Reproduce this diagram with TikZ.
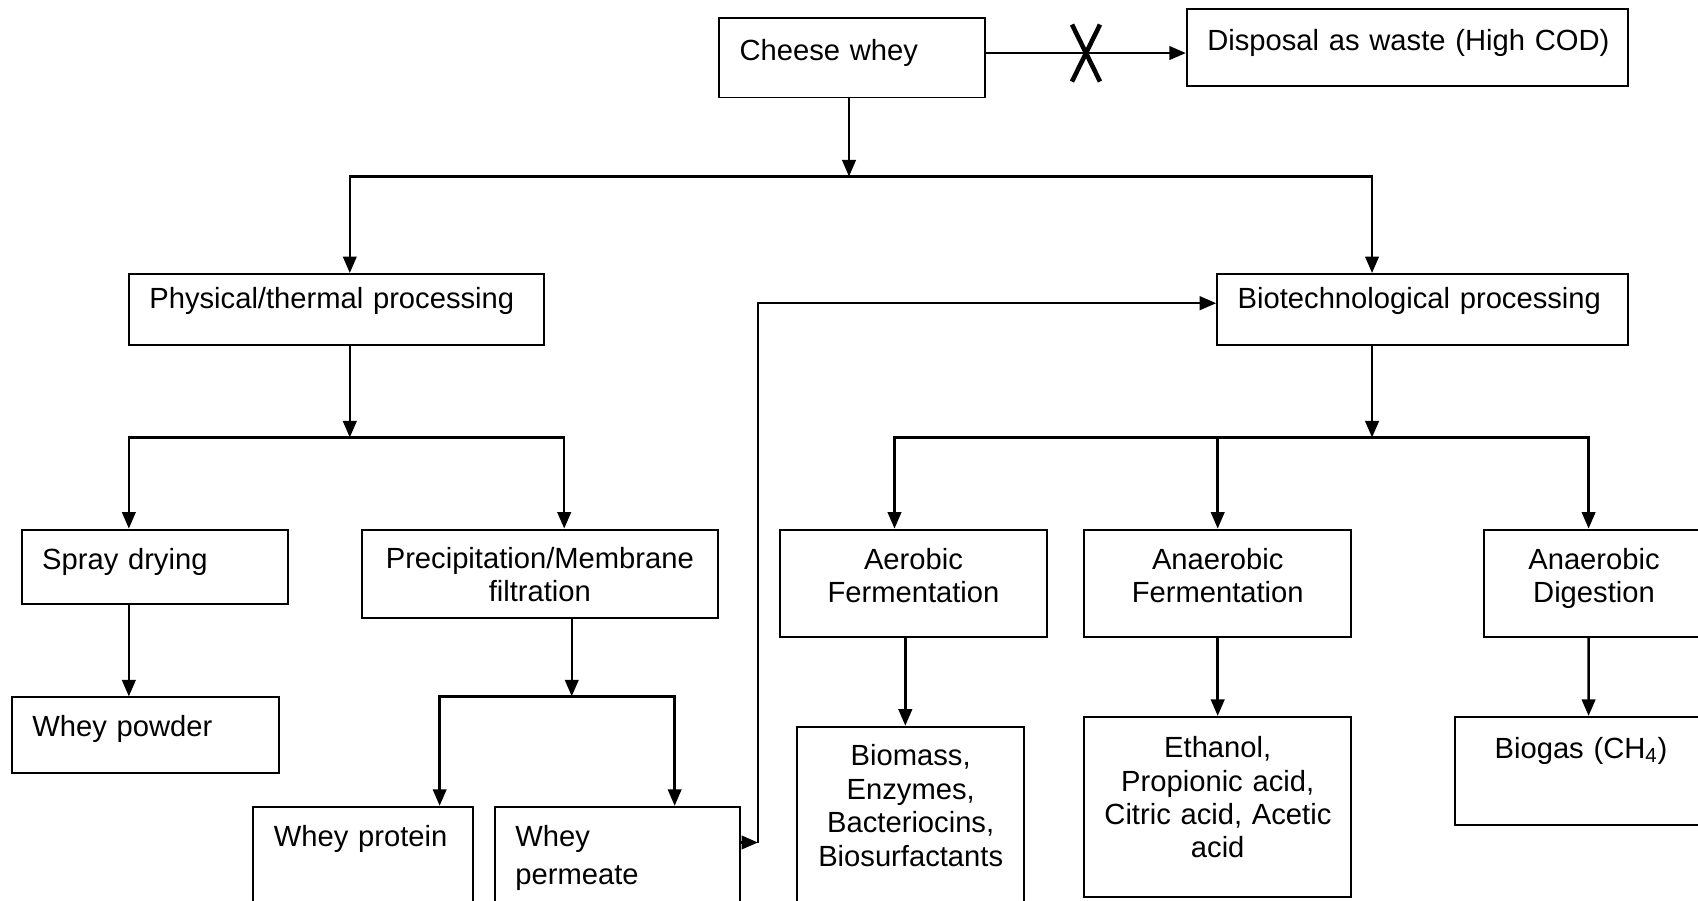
\documentclass[tikz,border=0pt]{standalone}
\usepackage{fontspec}
\setmainfont{Liberation Sans}
\usepackage{tikz}
\usetikzlibrary{arrows.meta}

\begin{document}
\begin{tikzpicture}[
    >={Triangle[length=0.33cm,width=0.27cm]},
    block/.style={rectangle,draw,line width=1.1pt,inner xsep=0.41cm,inner ysep=0.1cm,
      text height=12.4pt,font=\fontsize{16.6}{19}\selectfont},
    arr/.style={->,line width=1.4pt},
    cross/.style={line width=2.6pt}]

    \useasboundingbox (0,0) rectangle (33.96,-18.02);
    \clip (0,0) rectangle (33.96,-18.02);

    % top row
    \node[block,text width=4.508cm,minimum height=1.581cm,text depth=0.325cm,align=left] (cheese) at (17.045,-1.159) {Cheese whey};
    \node[block,text width=7.995cm,minimum height=1.538cm,text depth=0.28cm,align=left] (waste) at (28.144,-0.942) {\mbox{Disposal as waste (High COD)}};

    % the two ways of processing
    \node[block,text width=7.475cm,minimum height=1.429cm,text depth=0.476cm,align=left] (phys) at (6.725,-6.194) {Physical/thermal processing};
    \node[block,text width=7.388cm,minimum height=1.429cm,text depth=0.476cm,align=left] (biotech) at (28.448,-6.194) {Biotechnological processing};

    % physical side
    \node[block,text width=4.508cm,minimum height=1.494cm,text depth=0.325cm,align=left] (spray) at (3.097,-11.338) {Spray drying};
    \node[block,text width=6.305cm,minimum height=1.776cm,text depth=0.668cm,align=center] (precip) at (10.797,-11.479) {Precipitation/Membrane\\filtration};
    \node[block,text width=4.53cm,minimum height=1.516cm,text depth=0.39cm,align=left] (powder) at (2.913,-14.706) {Whey powder};
    \node[block,text width=3.577cm,minimum height=2.382cm,text depth=1.21cm,align=left] (protein) at (7.266,-17.326) {Whey protein};
    \node[block,text width=4.075cm,minimum height=2.382cm,text depth=1.213cm,align=left] (permeate) at (12.345,-17.326) {Whey\\[2.5pt]permeate};

    % biotechnological side
    \node[block,text width=4.53cm,minimum height=2.144cm,text depth=0.993cm,align=center] (aerobic) at (18.269,-11.663) {Aerobic\\Fermentation};
    \node[block,text width=4.53cm,minimum height=2.144cm,text depth=0.993cm,align=center] (anaerobic) at (24.354,-11.663) {Anaerobic\\Fermentation};
    \node[block,text width=3.598cm,minimum height=2.144cm,text depth=0.993cm,align=center] (digest) at (31.88,-11.663) {Anaerobic\\Digestion};
    \node[block,inner xsep=0.3cm,text width=3.948cm,minimum height=4.31cm,text depth=3.174cm,align=center] (biomass) at (18.214,-16.688) {Biomass,\\Enzymes,\\Bacteriocins,\\Biosurfactants};
    \node[block,text width=4.53cm,minimum height=3.595cm,text depth=2.394cm,align=center] (acids) at (24.354,-16.135) {Ethanol,\\Propionic acid,\\\mbox{Citric acid, Acetic}\\acid};
    \node[block,text width=4.205cm,minimum height=2.166cm,text depth=0.953cm,align=center] (biogas) at (31.62,-15.42) {Biogas (CH\textsubscript{4})};

    % junctions
    \coordinate (j1) at (16.98,-3.53);
    \coordinate (j2) at (6.996,-8.75);
    \coordinate (j3) at (11.435,-13.926);
    \coordinate (j4) at (27.441,-8.75);
    \coordinate (j5) at (15.16,-16.85);
    \coordinate (xm) at (21.72,-1.061);

    \draw[arr] (cheese.east |- xm) -- (waste.west |- xm);
    \draw[cross] (xm) ++(-0.28,0.57) -- ++(0.56,-1.14) (xm) ++(0.28,0.57) -- ++(-0.56,-1.14);

    \draw[arr] (cheese.south -| j1) -- (j1);
    \draw[arr] (j1) -| (phys.north -| j2);
    \draw[arr] (j1) -| (biotech.north -| j4);

    \draw[arr] (phys.south -| j2) -- (j2);
    \draw[arr] (j2) -| ([xshift=-0.52cm]spray.north);
    \draw[arr] (j2) -| ([xshift=0.487cm]precip.north);
    \draw[arr] ([xshift=-0.52cm]spray.south) -- ([xshift=-0.336cm]powder.north);
    \draw[arr] (precip.south -| j3) -- (j3);
    \draw[arr] (j3) -| ([xshift=1.527cm]protein.north);
    \draw[arr] (j3) -| ([xshift=1.148cm]permeate.north);
    \draw[arr] (permeate.east |- j5) -- (j5);
    \draw[arr] (j5) |- ([yshift=0.13cm]biotech.west);

    \draw[arr] (biotech.south -| j4) -- (j4);
    \draw[arr] (j4) -| ([xshift=-0.379cm]aerobic.north);
    \draw[arr] (j4) -| (anaerobic.north);
    \draw[arr] (j4) -| ([xshift=-0.108cm]digest.north);
    \draw[arr] ([xshift=-0.163cm]aerobic.south) -- ([xshift=-0.108cm]biomass.north);
    \draw[arr] (anaerobic.south) -- (acids.north);
    \draw[arr] ([xshift=-0.108cm]digest.south) -- ([xshift=0.152cm]biogas.north);

\end{tikzpicture}
\end{document}
